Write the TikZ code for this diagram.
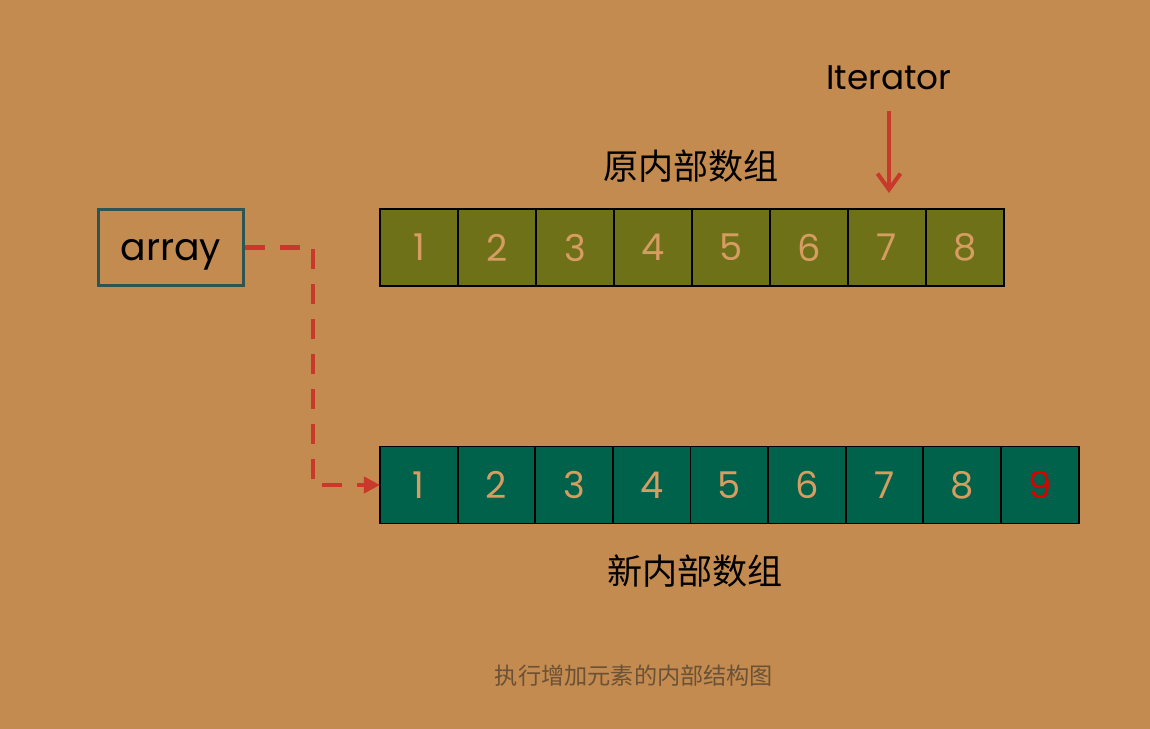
\documentclass[tikz,border=0pt]{standalone}
\usepackage{fontspec}
\setmainfont{Poppins}
\newfontfamily\cjk{Noto Sans CJK SC}
\usetikzlibrary{positioning,arrows.meta}
\definecolor{bgcol}{HTML}{C48B50}
\definecolor{oldgreen}{HTML}{6F7119}
\definecolor{newgreen}{HTML}{00624A}
\definecolor{numtan}{HTML}{D69C62}
\definecolor{ptrred}{HTML}{C8392B}
\definecolor{boxedge}{HTML}{2E5551}
\definecolor{capcol}{HTML}{6B5135}

\begin{document}
\begin{tikzpicture}[x=0.02cm,y=-0.02cm,
  cell/.style={draw=black,line width=1.1pt,outer sep=0pt,minimum width=1.56cm,minimum height=1.54cm,inner sep=0pt,text=numtan,font=\fontsize{21}{21}\selectfont},
  refbox/.style={draw=boxedge,line width=1.7pt,minimum width=2.9cm,minimum height=1.52cm,inner sep=0pt,text height=15pt,text depth=0pt,font=\fontsize{21.5}{21.5}\selectfont},
  title/.style={font=\cjk\fontsize{20}{20}\selectfont},
  link/.style={draw=ptrred,line width=2.3pt,dash pattern=on 0.4cm off 0.3cm,-{Triangle[length=0.32cm,width=0.32cm]}},
  ptr/.style={draw=ptrred,line width=2.3pt,-{Straight Barb[length=0.32cm,width=0.46cm]}}]
\fill[bgcol] (0,0) rectangle (1150,729);
% reference variable
\node[refbox] (array) at (171,247.5) {array};
% old inner array
\node[cell,fill=oldgreen] (old1) at (419,247.5) {1};
\foreach \i [remember=\i as \p (initially 1)] in {2,...,8}
  \node[cell,fill=oldgreen,right=0pt of old\p] (old\i) {\i};
\node[title] (oldname) at (691,166) {原内部数组};
% new inner array
\node[cell,fill=newgreen,minimum width=1.553cm] (new1) at (418.8,485) {1};
\foreach \i [remember=\i as \p (initially 1)] in {2,...,8}
  \node[cell,fill=newgreen,minimum width=1.553cm,right=0pt of new\p] (new\i) {\i};
\node[cell,fill=newgreen,minimum width=1.553cm,text=red!85!black,right=0pt of new8] (new9) {9};
\node[title] (newname) at (695,571) {新内部数组};
% iterator
\node[font=\fontsize{19.5}{19.5}\selectfont] (iter) at (889,78) {Iterator};
\draw[ptr,shorten <=0.3cm,shorten >=0.32cm] (iter) -- (iter |- old7.north);
% reference moved to new array
\coordinate (bend) at (313,485);
\draw[link] (array.east) -| (bend) -- (new1.west);
\node[font=\cjk\fontsize{13.2}{13.2}\selectfont,text=capcol] (caption) at (634,676) {执行增加元素的内部结构图};
\end{tikzpicture}
\end{document}
